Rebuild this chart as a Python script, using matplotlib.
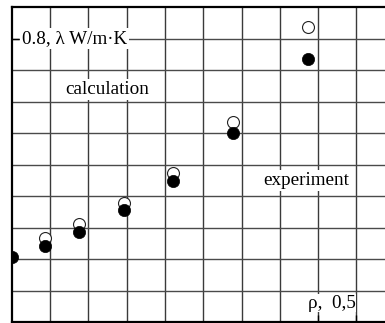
import matplotlib
matplotlib.use("Agg")
import matplotlib.pyplot as plt
import numpy as np

# porosity (rho) and thermal conductivity (lambda, W/m K)
rho_exp = [0.051, 0.093, 0.138, 0.196, 0.261, 0.339, 0.437]
lam_exp = [0.453, 0.471, 0.493, 0.527, 0.574, 0.650, 0.768]
rho_calc = [0.093, 0.138, 0.196, 0.261, 0.339, 0.437]
lam_calc = [0.484, 0.505, 0.539, 0.587, 0.668, 0.818]

x_grid = np.arange(0.10, 0.55, 0.05)
y_grid = np.arange(0.40, 0.85, 0.05)

plt.rcParams['font.family'] = ['Liberation Serif', 'DejaVu Serif']

fig = plt.figure(figsize=(3.85, 3.23), dpi=100)
ax = fig.add_axes([11.7 / 385, 1 - 322 / 323, 1 - 11.7 / 385, 315 / 323])
ax.set_xlim(0.05, 0.05 + (385 - 11.7) / 38.3 * 0.05)
ax.set_ylim(0.35, 0.85)

for xv in x_grid:
    ax.axvline(xv, color='#3a3a3a', lw=1.0, zorder=1)
for yv in y_grid:
    ax.axhline(yv, color='#4a4a4a', lw=1.0, zorder=1)

ax.plot(rho_calc, lam_calc, 'o', ms=8.6, mfc='white', mec='#222222', mew=0.8, zorder=3)
ax.plot(rho_exp, lam_exp, 'o', ms=8.8, mfc='black', mec='black', mew=0.5, zorder=4)

for s in ['left', 'bottom', 'top']:
    ax.spines[s].set_linewidth(1.6)
    ax.spines[s].set_zorder(6)
ax.spines['right'].set_visible(False)

ax.set_xticks([0.45, 0.5])
ax.set_yticks([0.8])
ax.tick_params(direction='in', length=5, width=1, labelbottom=False, labelleft=False,
               top=False, right=False)

fs = 13.8
bbox = dict(facecolor='white', edgecolor='none', pad=1.5)
ax.text(0.0634, 0.8, '0.8, λ W/m·K', fontsize=fs, ha='left', va='center', bbox=bbox, zorder=5)
ax.text(0.1744, 0.719, 'calculation', fontsize=fs, ha='center', va='center', bbox=bbox, zorder=5)
ax.text(0.4342, 0.575, 'experiment', fontsize=fs, ha='center', va='center', bbox=bbox, zorder=5)
ax.text(0.4678, 0.3801, 'ρ,  0,5', fontsize=fs, ha='center', va='center',
        bbox=dict(facecolor='white', edgecolor='none', pad=0.5), zorder=5)

fig.savefig('out.png', dpi=100)
